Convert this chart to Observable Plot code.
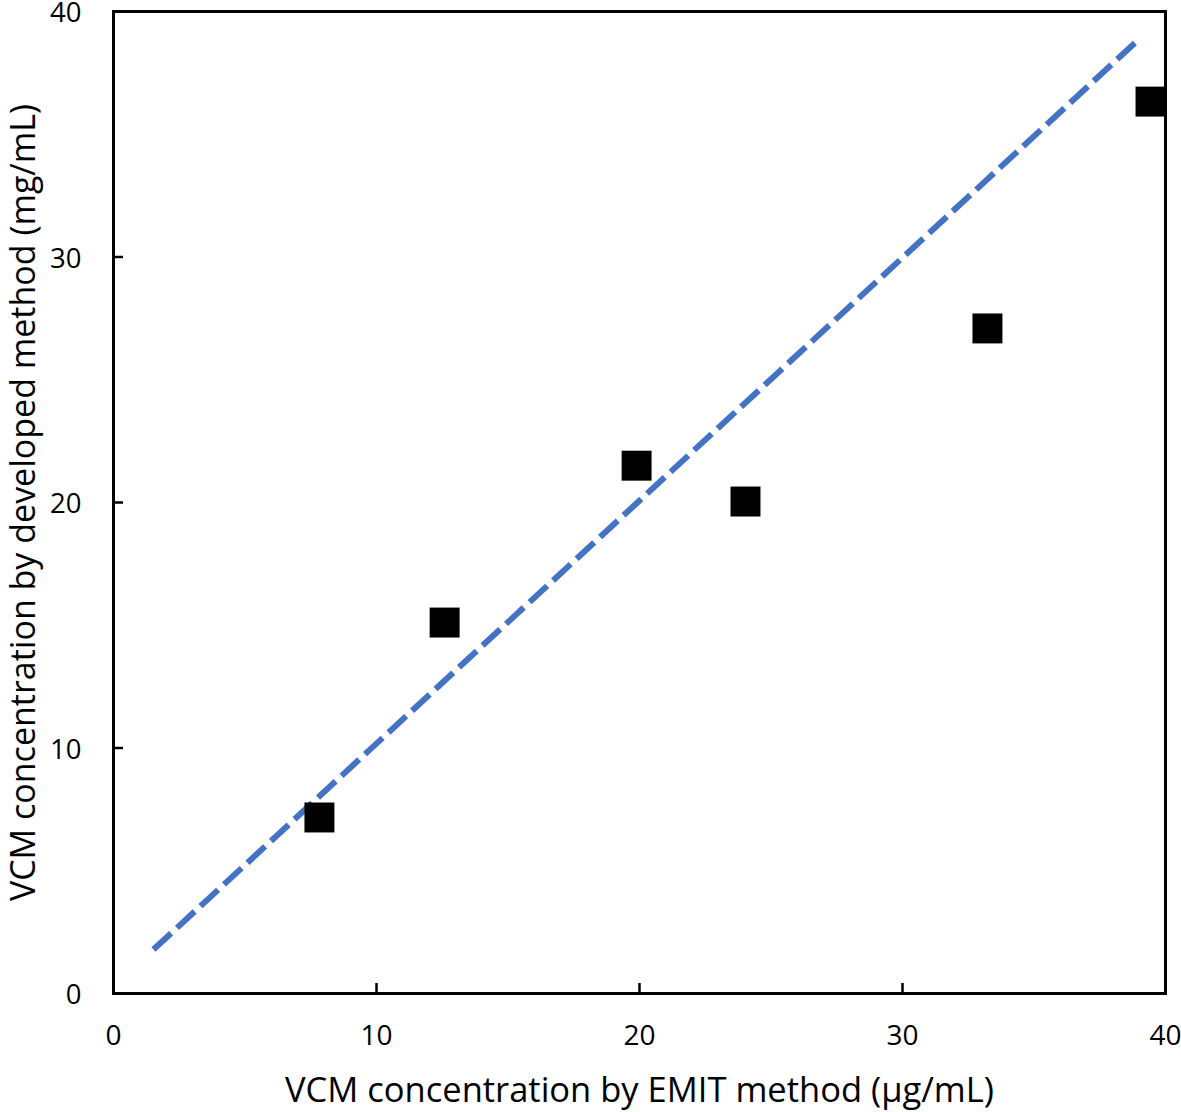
<!DOCTYPE html>
<html>
<head>
<meta charset="utf-8">
<script src="https://cdn.jsdelivr.net/npm/d3@7"></script>
<script src="https://cdn.jsdelivr.net/npm/@observablehq/plot@0.6"></script>
<style>
  html, body { margin: 0; padding: 0; background: #fff; }
  svg { display: block; overflow: visible; }
</style>
</head>
<body>
<div id="chart"></div>
<script>
const emit = [7.83, 12.59, 19.89, 24.03, 33.23, 39.43];
const developed = [7.17, 15.11, 21.5, 20.04, 27.09, 36.33];
const fitX = [1.52, 38.86];
const fitY = [1.79, 38.74];
const xTicks = [0, 10, 20, 30, 40];
const yTicks = [0, 10, 20, 30, 40];
const xLabel = "VCM concentration by EMIT method (μg/mL)";
const yLabel = "VCM concentration by developed method (mg/mL)";

const points = emit.map((x, i) => ({x, y: developed[i]}));
const fit = fitX.map((x, i) => ({x, y: fitY[i]}));

const font = "'Open Sans', sans-serif";

const chart = Plot.plot({
  width: 1181,
  height: 1112,
  marginLeft: 113,
  marginRight: 16,
  marginTop: 11,
  marginBottom: 119,
  style: {fontFamily: font, color: "#000", background: "#fff", overflow: "visible"},
  x: {domain: [0, 40]},
  y: {domain: [0, 40]},
  marks: [
    Plot.line(fit, {x: "x", y: "y", stroke: "#4472C4", strokeWidth: 6, strokeDasharray: "24,8", strokeLinecap: "butt"}),
    Plot.dot(points, {x: "x", y: "y", symbol: "square", r: 16.9, fill: "#000", stroke: "none"}),
    Plot.axisX({ticks: xTicks, tickSize: -10, strokeWidth: 2.5, tickFormat: () => "", label: null}),
    Plot.axisY({ticks: yTicks, tickSize: -10, strokeWidth: 2.5, tickFormat: () => "", label: null}),
    Plot.axisX({ticks: xTicks, tickSize: 0, tickPadding: 32, fontSize: 28, label: null}),
    Plot.axisY({ticks: yTicks, tickSize: 0, tickPadding: 32, fontSize: 27.5, label: null, dy: 2}),
    Plot.frame({stroke: "#000", strokeWidth: 3}),
    Plot.text([xLabel], {text: d => d, frameAnchor: "bottom", dy: 97, fontSize: 34.5, lineAnchor: "middle", textAnchor: "middle"}),
    Plot.text([yLabel], {text: d => d, frameAnchor: "left", dx: -89, rotate: -90, fontSize: 34, lineAnchor: "middle", textAnchor: "middle"})
  ]
});
document.getElementById("chart").appendChild(chart);
</script>
</body>
</html>
